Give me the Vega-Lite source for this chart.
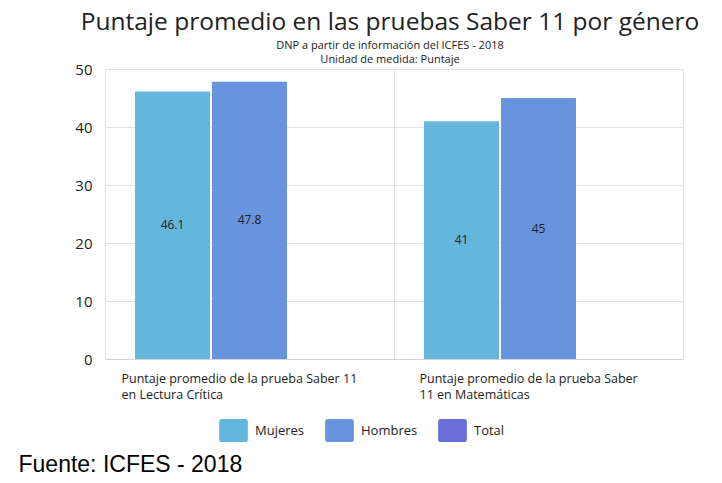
{
  "$schema": "https://vega.github.io/schema/vega-lite/v6.json",
  "width": 578,
  "height": 290,
  "padding": {"left": 18, "top": 9, "right": 5, "bottom": 5},
  "background": "white",
  "title": {
    "text": "Puntaje promedio en las pruebas Saber 11 por género",
    "subtitle": ["DNP a partir de información del ICFES - 2018", "Unidad de medida: Puntaje"],
    "font": "Open Sans",
    "fontSize": 24.5,
    "fontWeight": "normal",
    "color": "#222222",
    "subtitleFont": "Open Sans",
    "subtitleFontSize": 11,
    "subtitleColor": "#222222",
    "subtitlePadding": 5,
    "subtitleLineHeight": 14,
    "anchor": "middle",
    "dx": -4,
    "offset": -4
  },
  "data": {
    "values": [
      {"prueba": "Puntaje promedio de la prueba Saber 11 en Lectura Crítica", "genero": "Mujeres", "puntaje": 46.1},
      {"prueba": "Puntaje promedio de la prueba Saber 11 en Lectura Crítica", "genero": "Hombres", "puntaje": 47.8},
      {"prueba": "Puntaje promedio de la prueba Saber 11 en Matemáticas", "genero": "Mujeres", "puntaje": 41},
      {"prueba": "Puntaje promedio de la prueba Saber 11 en Matemáticas", "genero": "Hombres", "puntaje": 45}
    ]
  },
  "encoding": {
    "x": {
      "field": "prueba",
      "type": "nominal",
      "sort": null,
      "scale": {"paddingInner": 0, "paddingOuter": 0},
      "axis": {
        "title": "Fuente: ICFES - 2018",
        "titleFont": "Liberation Sans",
        "titleFontSize": 23,
        "titleFontWeight": "normal",
        "titleColor": "#000000",
        "titleAnchor": "start",
        "titleAlign": "left",
        "titleBaseline": "alphabetic",
        "titleX": -87,
        "titleY": 112,
        "bandPosition": 0,
        "grid": true,
        "gridColor": "#e2e2e2",
        "domainColor": "#d4d4d4",
        "ticks": false,
        "labelAngle": 0,
        "labelAlign": "left",
        "labelBaseline": "top",
        "labelPadding": 13,
        "labelFont": "Open Sans",
        "labelFontSize": 12.5,
        "labelColor": "#222222",
        "labelLineHeight": 16,
        "labelLimit": 0,
        "labelOffset": {"condition": {"test": "datum.value == 'Puntaje promedio de la prueba Saber 11 en Lectura Crítica'", "value": -128}, "value": -119},
        "labelExpr": "datum.value == 'Puntaje promedio de la prueba Saber 11 en Lectura Crítica' ? ['Puntaje promedio de la prueba Saber 11', 'en Lectura Crítica'] : ['Puntaje promedio de la prueba Saber', '11 en Matemáticas']"
      }
    },
    "xOffset": {
      "field": "genero",
      "type": "nominal",
      "scale": {"domain": ["Mujeres", "Hombres", "Total"], "paddingInner": 0.026, "paddingOuter": 0.39}
    }
  },
  "layer": [
    {
      "mark": {"type": "bar"},
      "encoding": {
        "y": {
          "field": "puntaje",
          "type": "quantitative",
          "scale": {"domain": [0, 50]},
          "axis": {
            "title": null,
            "grid": true,
            "gridColor": "#e2e2e2",
            "domain": false,
            "ticks": false,
            "values": [0, 10, 20, 30, 40, 50],
            "labelFont": "Open Sans",
            "labelFontSize": 15,
            "labelColor": "#222222",
            "labelPadding": 13
          }
        },
        "color": {
          "field": "genero",
          "type": "nominal",
          "scale": {"domain": ["Mujeres", "Hombres", "Total"], "range": ["#65b6dc", "#6894dd", "#6a6ed9"]},
          "legend": {
            "orient": "none",
            "legendX": 117,
            "legendY": 350,
            "direction": "horizontal",
            "title": null,
            "padding": 0,
            "symbolType": "M-1.25,-0.75 Q-1.25,-1 -1,-1 L1,-1 Q1.25,-1 1.25,-0.75 L1.25,0.75 Q1.25,1 1,1 L-1,1 Q-1.25,1 -1.25,0.75 Z",
            "symbolSize": 529,
            "symbolStrokeWidth": 0,
            "symbolOpacity": 1,
            "labelFont": "Open Sans",
            "labelFontSize": 13,
            "labelColor": "#222222",
            "labelOffset": 10,
            "columnPadding": 20
          }
        }
      }
    },
    {
      "mark": {"type": "text", "font": "Open Sans", "fontSize": 12, "color": "#222222"},
      "encoding": {
        "y": {"field": "puntaje", "type": "quantitative", "scale": {"domain": [0, 100]}, "axis": null},
        "text": {"field": "puntaje", "type": "quantitative"}
      }
    }
  ],
  "resolve": {"scale": {"y": "independent"}},
  "config": {"view": {"stroke": "#e2e2e2"}}
}
